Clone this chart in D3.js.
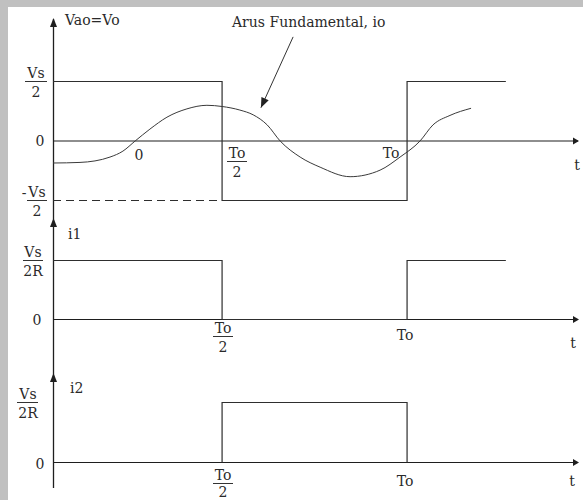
<!DOCTYPE html>
<html>
<head>
<meta charset="utf-8">
<script src="https://cdn.jsdelivr.net/npm/d3@7"></script>
<style>
  html, body { margin: 0; padding: 0; background: #fff; }
  svg text { font-family: "DejaVu Serif", serif; font-size: 14px; fill: #2a2a2a; }
</style>
</head>
<body>
<div id="chart"></div>
<script>
// Time is measured in periods To; values are normalised to each panel's peak.
const tRange = [0.043, 1.462];

// Output voltage Vao = Vo (units of Vs/2): square wave, step-after points
const voSteps = [
  { t: 0.043, v: 1 }, { t: 0.5, v: -1 }, { t: 1.0, v: 1 }, { t: 1.267, v: 1 }
];
// Dashed guide at -Vs/2
const voGuide = [{ t: 0.043, v: -1 }, { t: 0.5, v: -1 }];

// Fundamental component of the load current, io
const fundT = [0.043, 0.116, 0.197, 0.232, 0.265, 0.305, 0.351, 0.405, 0.459, 0.5, 0.548, 0.584,
               0.622, 0.657, 0.711, 0.765, 0.846, 0.927, 0.981, 1.035, 1.070, 1.116, 1.173];
const fundV = [-0.37, -0.36, -0.27, -0.17, 0, 0.2, 0.4, 0.54, 0.6, 0.58, 0.52, 0.44,
               0.27, 0, -0.27, -0.44, -0.6, -0.49, -0.27, 0, 0.27, 0.43, 0.55];

// Switch currents i1 and i2 (units of Vs/2R)
const i1Steps = [
  { t: 0.043, v: 1 }, { t: 0.5, v: 0 }, { t: 1.0, v: 1 }, { t: 1.267, v: 1 }
];
const i2Steps = [
  { t: 0.5, v: 0 }, { t: 0.5, v: 1 }, { t: 1.0, v: 0 }, { t: 1.0, v: 0 }
];

// Annotation pointer for the fundamental (tail, tip)
const pointer = [{ t: 0.692, v: 1.75 }, { t: 0.605, v: 0.56 }];

// Text labels
const panelTitles = ["Vao=Vo", "i1", "i2"];
const noteText = "Arus Fundamental, io";
const timeLabels = { zero: "0", half: ["To", "2"], period: "To", axis: "t" };

const W = 583, H = 500;
const svg = d3.select("#chart").append("svg")
  .attr("width", W).attr("height", H);

// Frame
svg.append("rect").attr("x", 0).attr("y", 0).attr("width", W).attr("height", H).attr("fill", "#c0c0c0");
svg.append("rect").attr("x", 8).attr("y", 7).attr("width", W - 8).attr("height", H - 7).attr("fill", "#fff");

const x = d3.scaleLinear().domain(tRange).range([53, 578]);
const yTop = d3.scaleLinear().domain([-1, 1]).range([200.5, 81.5]);
const yMid = d3.scaleLinear().domain([0, 1]).range([319.5, 260.5]);
const yBot = d3.scaleLinear().domain([0, 1]).range([462.5, 402.5]);

const ink = "#1e1e1e";
const wave = "#2e2e2e";

const g = svg.append("g");

// Vertical axis shared by the three panels
const ax = Math.round(x(tRange[0])) + 0.5;
g.append("line").attr("x1", ax).attr("x2", ax).attr("y1", 19).attr("y2", 488)
  .attr("stroke", ink).attr("stroke-width", 1.3);

function upArrow(tipY) {
  g.append("path")
    .attr("d", `M${ax},${tipY} L${ax - 3.5},${tipY + 9} L${ax + 3.5},${tipY + 9} Z`)
    .attr("fill", ink);
}
function rightArrow(yy) {
  const xe = x(tRange[1]);
  g.append("path")
    .attr("d", `M${xe + 1},${yy} L${xe - 5},${yy - 3.5} L${xe - 5},${yy + 3.5} Z`)
    .attr("fill", ink);
}

// Horizontal time axes
[yTop, yMid, yBot].forEach(ys => {
  const yy = ys(0);
  g.append("line").attr("x1", ax).attr("x2", x(tRange[1]))
    .attr("y1", yy).attr("y2", yy).attr("stroke", ink).attr("stroke-width", 1.2);
  rightArrow(yy);
});
upArrow(18);
upArrow(218);
upArrow(373);

// Waveforms
function stepPath(data, ys) {
  return d3.line().x(d => x(d.t)).y(d => ys(d.v)).curve(d3.curveStepAfter)(data);
}
g.append("path").attr("d", stepPath(voSteps, yTop)).attr("fill", "none").attr("stroke", wave).attr("stroke-width", 1.2);
g.append("path").attr("d", d3.line().x(d => x(d.t)).y(d => yTop(d.v))(voGuide))
  .attr("fill", "none").attr("stroke", wave).attr("stroke-width", 1.2).attr("stroke-dasharray", "8,5");

const fund = fundT.map((t, i) => ({ t, v: fundV[i] }));
g.append("path")
  .attr("d", d3.line().x(d => x(d.t)).y(d => yTop(d.v)).curve(d3.curveMonotoneX)(fund))
  .attr("fill", "none").attr("stroke", "#3a3a3a").attr("stroke-width", 1);

g.append("path").attr("d", stepPath(i1Steps, yMid)).attr("fill", "none").attr("stroke", wave).attr("stroke-width", 1.2);
g.append("path").attr("d", stepPath(i2Steps, yBot)).attr("fill", "none").attr("stroke", wave).attr("stroke-width", 1.2);

// Pointer to the fundamental
const p0 = { x: x(pointer[0].t), y: yTop(pointer[0].v) };
const p1 = { x: x(pointer[1].t), y: yTop(pointer[1].v) };
g.append("line").attr("x1", p0.x).attr("y1", p0.y).attr("x2", p1.x).attr("y2", p1.y)
  .attr("stroke", "#333").attr("stroke-width", 1);
{
  const ang = Math.atan2(p1.y - p0.y, p1.x - p0.x);
  const L = 10, Wd = 4;
  const bx = p1.x - L * Math.cos(ang), by = p1.y - L * Math.sin(ang);
  const nx = -Math.sin(ang) * Wd, ny = Math.cos(ang) * Wd;
  g.append("path")
    .attr("d", `M${p1.x},${p1.y} L${bx + nx},${by + ny} L${bx - nx},${by - ny} Z`)
    .attr("fill", "#222");
}

// Text helpers
function txt(s, tx, ty, anchor = "start") {
  return g.append("text").attr("x", tx).attr("y", ty).attr("text-anchor", anchor).text(s);
}
function frac(num, den, cx, lineY, x1, x2, gap = 16) {
  txt(num, cx, lineY - 3, "middle");
  g.append("line").attr("x1", x1).attr("x2", x2).attr("y1", lineY + 0.5).attr("y2", lineY + 0.5)
    .attr("stroke", "#333").attr("stroke-width", 1);
  txt(den, cx, lineY + gap, "middle");
}

// Panel titles and the note
txt(panelTitles[0], 65, 25);
txt(noteText, 232, 27);
txt(panelTitles[1], 68, 239);
txt(panelTitles[2], 70, 393);

// Vertical value labels
frac("Vs", "2", 36, yTop(1) - 0.5, 25, 47);
txt("0", 40, yTop(0) + 5, "middle");
txt("-", 24, yTop(-1) - 3, "middle");
frac("Vs", "2", 37, yTop(-1) - 0.5, 27, 47);

frac("Vs", "2R", 33, yMid(1) - 0.5, 23, 43);
txt("0", 37, yMid(0) + 5, "middle");

frac("Vs", "2R", 28, yBot(1) - 0.5, 17, 38);
txt("0", 40, yBot(0) + 6, "middle");

// Time labels, top panel
txt(timeLabels.zero, 139, 160, "middle");
frac(timeLabels.half[0], timeLabels.half[1], 237, 161, 227, 247);
txt(timeLabels.period, 391, 158, "middle");
txt(timeLabels.axis, 577, 170, "middle");

// Time labels, middle panel
frac(timeLabels.half[0], timeLabels.half[1], 223, 336, 213, 233);
txt(timeLabels.period, 405, 340, "middle");
txt(timeLabels.axis, 573, 348, "middle");

// Time labels, bottom panel
frac(timeLabels.half[0], timeLabels.half[1], 223, 483, 213, 233, 14);
txt(timeLabels.period, 405, 486, "middle");
txt(timeLabels.axis, 572, 486, "middle");
</script>
</body>
</html>
